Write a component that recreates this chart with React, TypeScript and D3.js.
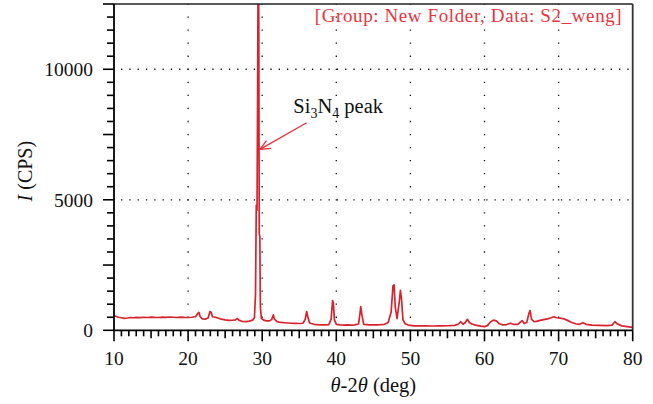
import React from "react";
import * as d3 from "d3";

/* diffraction trace: 2θ (deg) and counts (CPS) */
const twoTheta = [
  10.0, 10.3, 10.6, 11.0, 11.4, 11.8, 12.2, 12.6, 13.0, 13.5, 14.0, 14.5, 15.0, 15.5, 16.0, 16.5,
  17.0, 17.5, 18.0, 18.5, 19.0, 19.5, 20.0, 20.5, 21.0, 21.3, 21.45, 21.6, 21.9, 22.3, 22.7, 22.95,
  23.1, 23.3, 23.7, 24.0, 24.5, 25.0, 25.5, 26.0, 26.4, 26.65, 26.9, 27.3, 27.8, 28.3, 28.7, 28.95,
  29.1, 29.2, 29.3, 29.38, 29.45, 29.52, 29.6, 29.68, 29.75, 29.9, 30.2, 30.6, 31.0, 31.3, 31.5,
  31.65, 32.0, 32.5, 33.0, 33.5, 34.0, 34.5, 35.0, 35.5, 35.8, 36.0, 36.15, 36.4, 37.0, 37.5, 38.0,
  38.5, 39.0, 39.3, 39.5, 39.6, 39.75, 40.0, 40.5, 41.0, 41.5, 42.0, 42.5, 43.0, 43.2, 43.3, 43.45,
  43.7, 44.5, 45.0, 45.5, 46.0, 46.5, 47.0, 47.4, 47.65, 47.8, 47.95, 48.2, 48.5, 48.65, 48.8, 49.0,
  49.3, 49.7, 50.0, 50.5, 51.0, 52.0, 53.0, 54.0, 55.0, 56.0, 56.5, 56.8, 57.1, 57.4, 57.7, 57.95,
  58.3, 58.8, 59.5, 60.0, 60.4, 60.8, 61.2, 61.6, 62.0, 62.5, 63.0, 63.5, 63.9, 64.5, 64.9, 65.1,
  65.35, 65.7, 66.0, 66.15, 66.35, 66.7, 67.0, 67.5, 68.0, 68.5, 69.0, 69.4, 69.7, 70.2, 70.7, 71.2,
  71.7, 72.3, 72.8, 73.3, 73.7, 74.5, 75.5, 76.5, 77.2, 77.6, 77.9, 78.5, 79.0, 79.5, 80.0,
];
const counts = [
  560, 530, 500, 480, 455, 470, 490, 480, 495, 485, 500, 490, 505, 495, 490, 505,
  495, 510, 500, 490, 505, 495, 490, 500, 520, 640, 690, 540, 440, 430, 470, 720,
  690, 520, 500, 470, 430, 400, 380, 385, 400, 450, 380, 345, 335, 350, 390, 480,
  1400, 4800, 4600, 9000, 14000, 14000, 3700, 3600, 900, 450, 390, 360, 360, 420, 590,
  430, 330, 300, 290, 280, 270, 265, 260, 270, 420, 720, 520, 280, 230, 215, 210,
  205, 215, 420, 1140, 1050, 400, 230, 205, 200, 210, 200, 205, 240, 650, 910, 600,
  230, 210, 205, 210, 215, 230, 300, 700, 1700, 1740, 900, 450, 1100, 1530, 1200, 400,
  250, 200, 190, 170, 175, 170, 165, 170, 175, 190, 240, 330, 230, 300, 420, 300,
  240, 200, 160, 140, 180, 320, 390, 360, 250, 210, 220, 270, 230, 230, 330, 370,
  260, 300, 650, 760, 420, 330, 340, 380, 410, 440, 480, 520, 480, 470, 440, 380,
  310, 250, 230, 290, 230, 200, 190, 180, 200, 330, 250, 170, 150, 130, 110,
];

const xTicks = [10, 20, 30, 40, 50, 60, 70, 80];
const yTicks = [0, 5000, 10000];
const xGrid = [20, 30, 40, 50, 60, 70];
const yGrid = [5000, 10000];

const W = 653;
const H = 404;
const M = { left: 114, right: 20.3, top: 4, bottom: 73.7 };
const FONT = '"Liberation Serif", "Times New Roman", serif';
const txt = { fontFamily: FONT };

export default function App() {
  const x = d3.scaleLinear().domain([10, 80]).range([M.left, W - M.right]);
  const y = d3.scaleLinear().domain([0, 12500]).range([H - M.bottom, M.top]);
  const [x0, x1] = x.range();
  const [y0, y1] = y.range();

  const pts = twoTheta.map((t, i) => [t, counts[i]] as [number, number]);
  const line = d3
    .line<[number, number]>()
    .x((d) => x(d[0]))
    .y((d) => y(d[1]));

  const xMinor = d3.range(10, 80.01, 1);
  const yMinor = d3.range(0, 12500.1, 500);

  /* annotation anchors in data units */
  const tip = [x(29.7), y(6930)];
  const tail = [x(36.0), y(7950)];
  const ang = Math.atan2(tail[1] - tip[1], tail[0] - tip[0]);
  const hl = 11;
  const spread = 0.42;
  const head = `M${tip[0] + hl * Math.cos(ang - spread)},${tip[1] + hl * Math.sin(ang - spread)} L${tip[0]},${tip[1]} L${tip[0] + hl * Math.cos(ang + spread)},${tip[1] + hl * Math.sin(ang + spread)}`;

  return (
    <svg
      width={W}
      height={H}
      style={{ position: "absolute", left: 0, top: 0, background: "#fff" }}
    >
      <defs>
        <clipPath id="plot">
          <rect x={x0} y={y1} width={x1 - x0} height={y0 - y1} />
        </clipPath>
      </defs>

      {/* dotted grid */}
      {xGrid.map((t) => (
        <line
          key={"gx" + t}
          x1={x(t)}
          x2={x(t)}
          y1={y0}
          y2={y1}
          stroke="#111"
          strokeWidth={1.3}
          strokeDasharray={`1.3 ${(y(0) - y(500) - 1.3).toFixed(2)}`}
          strokeDashoffset={-(y(0) - y(500)) + 0.65}
        />
      ))}
      {yGrid.map((v) => (
        <line
          key={"gy" + v}
          x1={x0}
          x2={x1}
          y1={y(v)}
          y2={y(v)}
          stroke="#111"
          strokeWidth={1.3}
          strokeDasharray="1.3 7"
          strokeDashoffset={-7}
        />
      ))}

      {/* trace */}
      <path
        d={line(pts) ?? ""}
        fill="none"
        stroke="#d8232d"
        strokeWidth={1.7}
        strokeLinejoin="round"
        clipPath="url(#plot)"
      />

      {/* frame */}
      <line x1={x0} x2={x1} y1={y1} y2={y1} stroke="#222" strokeWidth={1.5} />
      <line x1={x1} x2={x1} y1={y1} y2={y0} stroke="#333" strokeWidth={1.8} />
      <line x1={x0} x2={x1} y1={y0} y2={y0} stroke="#000" strokeWidth={1.7} />
      <line x1={x0} x2={x0} y1={y0 + 0.8} y2={y1} stroke="#000" strokeWidth={1.8} />

      {/* x ticks */}
      {xMinor.map((t) => {
        const r = Math.round(t);
        const len = r % 10 === 0 ? 11 : r % 5 === 0 ? 8 : 6;
        return (
          <line key={"xt" + r} x1={x(t)} x2={x(t)} y1={y0} y2={y0 + len} stroke="#000" strokeWidth={1.6} />
        );
      })}
      {xTicks.map((t) => (
        <text key={"xl" + t} x={x(t)} y={y0 + 35} textAnchor="middle" fontSize={19.5} fill="#111" style={txt}>
          {t}
        </text>
      ))}

      {/* y ticks */}
      {yMinor.map((v) => {
        const len = Math.round(v) % 2500 === 0 ? 11 : 7;
        return (
          <line key={"yt" + v} x1={x0 - len} x2={x0} y1={y(v)} y2={y(v)} stroke="#000" strokeWidth={1.6} />
        );
      })}
      {yTicks.map((v) => (
        <text key={"yl" + v} x={x0 - 21} y={y(v)} dy="0.35em" textAnchor="end" fontSize={19.5} fill="#111" style={txt}>
          {v}
        </text>
      ))}

      {/* axis titles */}
      <text x={(x0 + x1) / 2} y={392} textAnchor="middle" fontSize={20.5} fill="#111" style={txt}>
        <tspan fontStyle="italic">θ</tspan>
        <tspan>-2</tspan>
        <tspan fontStyle="italic">θ</tspan>
        <tspan> (deg)</tspan>
      </text>
      <text
        transform={`translate(32,${(y0 + y1) / 2 + 4}) rotate(-90)`}
        textAnchor="middle"
        fontSize={20}
        fill="#111"
        style={txt}
      >
        <tspan fontStyle="italic">I</tspan>
        <tspan> (CPS)</tspan>
      </text>

      {/* annotation */}
      <text x={x(34.2)} y={y(8330)} fontSize={20.5} fill="#111" style={txt}>
        Si
        <tspan fontSize={14} dy={5}>3</tspan>
        <tspan dy={-5}>N</tspan>
        <tspan fontSize={14} dy={5}>4</tspan>
        <tspan dy={-5}> peak</tspan>
      </text>
      <line x1={tail[0]} y1={tail[1]} x2={tip[0]} y2={tip[1]} stroke="#e8303a" strokeWidth={1.3} />
      <path d={head} fill="none" stroke="#e8303a" strokeWidth={1.3} />

      {/* sample label */}
      <text
        x={x1 - 11}
        y={22}
        textAnchor="end"
        fontSize={19}
        fill="#e9343e"
        style={txt}
        textLength={307}
        lengthAdjust="spacing"
      >
        [Group: New Folder, Data: S2_weng]
      </text>
    </svg>
  );
}
